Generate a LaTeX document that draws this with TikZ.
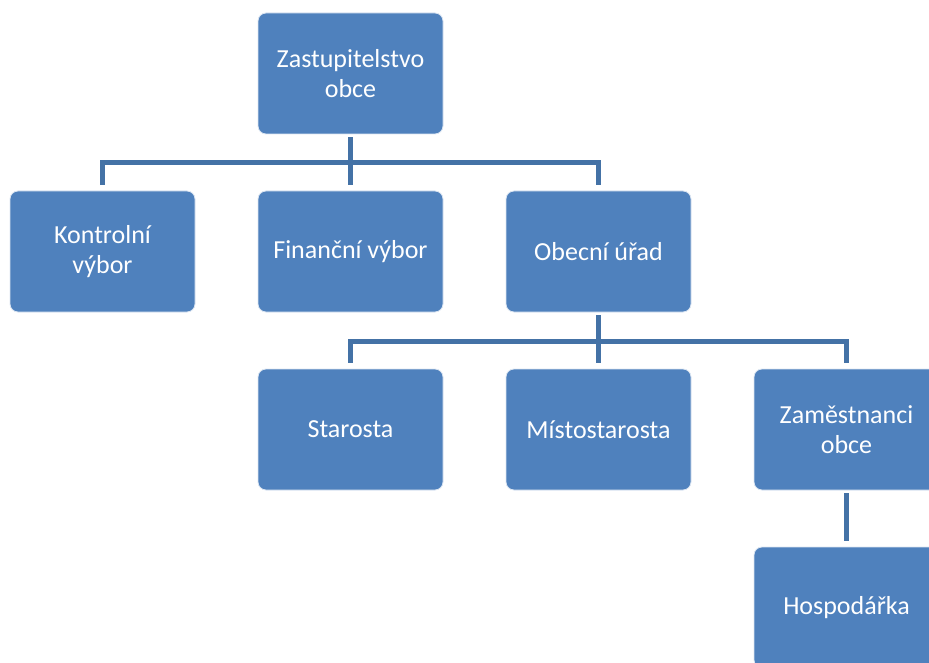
\documentclass[tikz,border=0pt]{standalone}
\usepackage{fontspec}
\setmainfont{Carlito}
\definecolor{boxblue}{RGB}{79,129,189}
\definecolor{lineblue}{RGB}{68,114,166}
\begin{document}
\begin{tikzpicture}[x=1pt,y=-1pt,
  orgbox/.style={draw=white!80!boxblue, line width=0.8pt, fill=boxblue, rounded corners=8pt,
    minimum width=185pt, minimum height=121pt, text=white, align=center,
    font=\fontsize{26}{30}\selectfont, inner sep=0pt},
  conn/.style={draw=lineblue, line width=5pt}]
\useasboundingbox (0,0) rectangle (929,663);
\node[orgbox] (z) at (350.5,73.5) {Zastupitelstvo\\obce};
\node[orgbox] (k) at (102.5,251.5) {Kontrolní\\výbor};
\node[orgbox] (f) at (350.5,251.5) {Finanční výbor};
\node[orgbox] (o) at (598.5,251.5) {Obecní úřad};
\node[orgbox] (s) at (350.5,429.5) {Starosta};
\node[orgbox] (m) at (598.5,429.5) {Místostarosta};
\node[orgbox] (e) at (846.5,429.5) {Zaměstnanci\\obce};
\node[orgbox] (h) at (846.5,607.5) {Hospodářka};
\coordinate (b1) at (350.5,162.5);
\coordinate (b2) at (598.5,341);
\draw[conn] ([yshift=-3pt]z.south) -- (b1);
\draw[conn] ([yshift=6pt]k.north) |- (b1) -| ([yshift=6pt]o.north);
\draw[conn] (b1) -- ([yshift=6pt]f.north);
\draw[conn] ([yshift=-3pt]o.south) -- (b2);
\draw[conn] ([yshift=6pt]s.north) |- (b2) -| ([yshift=6pt]e.north);
\draw[conn] (b2) -- ([yshift=6pt]m.north);
\draw[conn] ([yshift=-3pt]e.south) -- ([yshift=6pt]h.north);
\end{tikzpicture}
\end{document}
